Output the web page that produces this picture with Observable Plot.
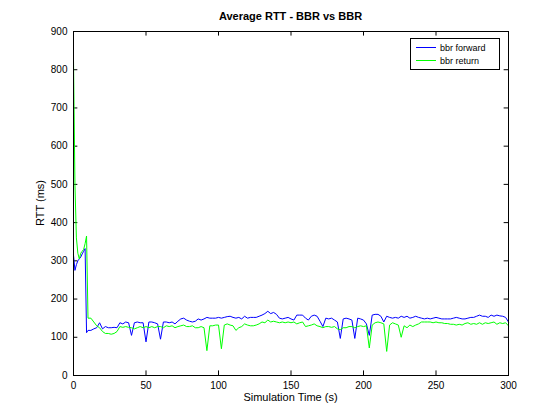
<!DOCTYPE html>
<html><head><meta charset="utf-8">
<script src="https://cdn.jsdelivr.net/npm/d3@7"></script>
<script src="https://cdn.jsdelivr.net/npm/@observablehq/plot@0.6"></script>
<style>
body{margin:0;background:#fff;font-family:"Liberation Sans",Arial,sans-serif}
#wrap{position:relative;width:560px;height:420px}
#wrap svg{position:absolute;left:0;top:0}
#title{position:absolute;top:10px;left:73px;width:435px;text-align:center;font-weight:bold;font-size:11px;z-index:1}
#xlab{position:absolute;top:391px;left:73px;width:435px;text-align:center;font-size:11px;z-index:1}
#ylab{position:absolute;top:203px;left:40px;font-size:11px;transform:translate(-50%,-50%) rotate(-90deg);white-space:nowrap;z-index:1}
#legend{position:absolute;left:410px;top:38px;width:88px;border:1px solid #000;background:#fff;font-size:9px;padding:2px 0;z-index:1}
#legend div{display:flex;align-items:center;height:13px}
#legend span{display:inline-block;width:20px;height:0;margin:0 4px 0 5px}
</style></head><body>
<div id="wrap"><div id="title">Average RTT - BBR vs BBR</div>
<div id="xlab">Simulation Time (s)</div><div id="ylab">RTT (ms)</div>
<div id="legend"><div><span style="border-top:1px solid #00f"></span>bbr forward</div><div><span style="border-top:1px solid #0f0"></span>bbr return</div></div></div>
<script>
const earlyT = [0,1,2,3,4,5,6,7,8,9,10];
const earlyFwd = [315,275,290,300,305,310,318,325,332,112,118];
const earlyRet = [830,500,360,320,305,320,325,330,345,365,150];
const laterT = d3.range(12, 301, 2);
const laterFwd = [118,122,125,138,122,128,125,125,126,125,138,135,140,138,105,138,140,138,138,88,140,140,138,135,95,140,140,138,140,135,142,148,150,145,142,140,142,148,145,148,152,150,150,150,152,150,152,154,155,152,150,152,148,155,150,152,152,152,155,158,162,168,162,165,160,150,148,150,152,148,145,158,158,158,150,145,155,158,155,142,128,150,148,150,145,140,97,148,150,148,145,97,150,148,145,135,105,158,160,160,155,140,155,152,150,152,150,155,152,155,150,152,155,152,150,148,150,148,150,152,150,148,148,148,148,150,152,150,148,148,150,152,152,155,158,155,155,152,158,155,158,156,155,152,140];
const laterRet = [150,140,130,125,115,110,110,108,110,115,128,126,128,126,125,122,125,128,125,128,125,128,125,128,128,125,130,128,130,125,128,130,132,128,128,130,125,125,128,125,65,130,130,132,132,70,132,135,132,130,118,125,128,135,132,130,130,132,135,140,138,145,140,142,140,138,140,138,140,138,140,135,138,140,128,130,132,135,130,128,125,128,128,126,128,122,120,125,125,128,128,125,128,130,128,130,72,132,138,140,138,135,63,132,138,135,132,100,130,125,132,128,132,135,140,140,140,140,138,140,138,138,136,136,134,134,132,134,132,136,138,134,136,134,138,134,138,136,138,140,134,138,136,138,130];
const times = earlyT.concat(laterT);
const fwd = earlyFwd.concat(laterFwd);
const ret = earlyRet.concat(laterRet);
const xTicks = [0,50,100,150,200,250,300];
const yTicks = d3.range(0, 901, 100);

const rows = times.flatMap((t, i) => [
  {t, v: fwd[i], s: "bbr forward"},
  {t, v: ret[i], s: "bbr return"}
]);

const chart = Plot.plot({
  width: 560, height: 420,
  marginLeft: 73, marginRight: 52, marginTop: 31, marginBottom: 45,
  style: {fontFamily: "Liberation Sans, Arial, sans-serif", fontSize: "10px", background: "#fff"},
  x: {domain: [0, 300], ticks: xTicks, tickSize: 0, tickPadding: 6, label: null},
  y: {domain: [0, 900], ticks: yTicks, tickSize: 0, tickPadding: 6, label: null},
  color: {domain: ["bbr forward", "bbr return"], range: ["#0000ff", "#00ff00"]},
  marks: [
    Plot.ruleX(xTicks, {x: d => d, y1: 0, y2: 12, stroke: "#000"}),
    Plot.ruleX(xTicks, {x: d => d, y1: 888, y2: 900, stroke: "#000"}),
    Plot.ruleY(yTicks, {y: d => d, x1: 0, x2: 3, stroke: "#000"}),
    Plot.ruleY(yTicks, {y: d => d, x1: 297, x2: 300, stroke: "#000"}),
    Plot.line(rows, {x: "t", y: "v", z: "s", stroke: "s", strokeWidth: 1}),
    Plot.frame({stroke: "#000"})
  ]
});
document.getElementById("wrap").prepend(chart);
</script></body></html>
